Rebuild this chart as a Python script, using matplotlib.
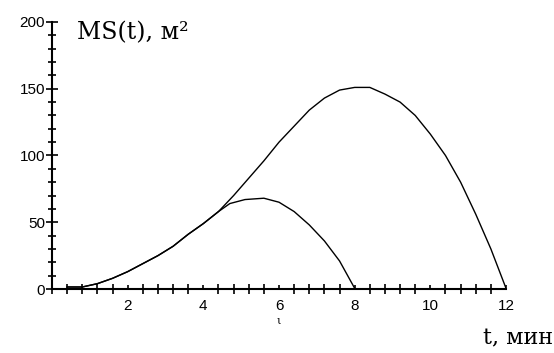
import matplotlib

matplotlib.use("Agg")
import matplotlib.pyplot as plt
from matplotlib.ticker import MultipleLocator
from matplotlib.transforms import blended_transform_factory

# outer curve (whole fire period)
T_OUTER = [0.4, 0.8, 1.2, 1.6, 2.0, 2.4, 2.8, 3.2, 3.6, 4.0, 4.4, 4.8, 5.2, 5.6,
           6.0, 6.4, 6.8, 7.2, 7.6, 8.0, 8.4, 8.8, 9.2, 9.6, 10.0, 10.4, 10.8,
           11.2, 11.6, 12.0]
MS_OUTER = [1.5, 1.5, 4, 8, 13, 19, 25, 32, 41, 49, 58, 70, 83, 96,
            110, 122, 134, 143, 149, 151, 151, 146, 140, 130, 116, 100, 80,
            56, 30, 0.5]

# inner curve (branch ending at t = 8)
T_INNER = [0.4, 0.8, 1.2, 1.6, 2.0, 2.4, 2.8, 3.2, 3.6, 4.0, 4.4, 4.7, 5.1,
           5.6, 6.0, 6.4, 6.8, 7.2, 7.6, 8.0]
MS_INNER = [1.5, 1.5, 4, 8, 13, 19, 25, 32, 41, 49, 58, 64, 67,
            68, 65, 58, 48, 36, 21, 0.5]

X_TICKS = [2, 4, 6, 8, 10, 12]
Y_TICKS = [0, 50, 100, 150, 200]

fig = plt.figure(figsize=(5.54, 3.53), dpi=100)
ax = fig.add_axes([0.0939, 0.1813, 0.8195, 0.7564])

ax.plot(T_OUTER, MS_OUTER, color="black", linewidth=1.0)
ax.plot(T_INNER, MS_INNER, color="black", linewidth=1.0)

ax.set_xlim(0, 12)
ax.set_ylim(0, 200)
ax.set_xticks(X_TICKS)
ax.set_yticks(Y_TICKS)
ax.xaxis.set_minor_locator(MultipleLocator(0.4))
ax.yaxis.set_minor_locator(MultipleLocator(10))

for s in ("top", "right"):
    ax.spines[s].set_visible(False)
for s in ("left", "bottom"):
    ax.spines[s].set_linewidth(1.5)

ax.tick_params(which="both", colors="black", width=1.2)
ax.tick_params(axis="x", which="major", direction="in", length=3,
               labelsize=11, pad=7)
ax.tick_params(axis="x", which="minor", direction="inout", length=7)
ax.tick_params(axis="y", which="major", direction="inout", length=8,
               labelsize=11, pad=1)
ax.tick_params(axis="y", which="minor", direction="inout", length=6)
for lab in ax.get_xticklabels() + ax.get_yticklabels():
    lab.set_family("Liberation Sans")

fig.text(0.139, 0.906, "MS(t), м²", family="DejaVu Serif", fontsize=17,
         va="center", ha="left")
fig.text(0.998, 0.042, "t, мин", family="DejaVu Serif", fontsize=16,
         va="center", ha="right")
tr = blended_transform_factory(ax.transData, fig.transFigure)
ax.text(6, 0.09, "ι", transform=tr, family="DejaVu Serif", fontsize=8,
        va="center", ha="center")

fig.savefig("out.png", dpi=100, facecolor="white")
